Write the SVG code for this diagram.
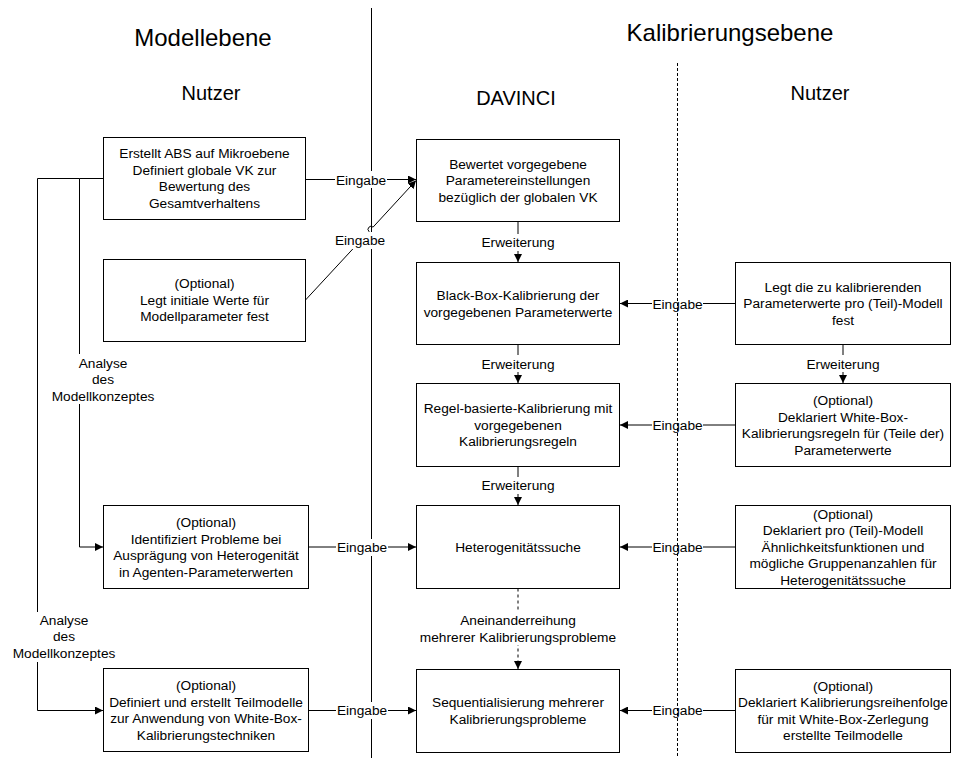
<svg xmlns="http://www.w3.org/2000/svg" width="954" height="758" viewBox="0 0 954 758">
  <style>
    text { font-family: "Liberation Sans", Arial, sans-serif; fill: #000; text-anchor: middle; }
    .t { font-size: 13.7px; }
    .h1 { font-size: 24px; }
    .h2 { font-size: 20px; }
    .box { fill: #fff; stroke: #000; stroke-width: 1; }
    .edge { fill: none; stroke: #000; stroke-width: 1; }
    .dash { stroke-dasharray: 3 3; }
    .lbg { fill: #fff; stroke: none; }
  </style>
  <defs>
    <marker id="arrow" viewBox="0 0 8 8" refX="8" refY="4" markerWidth="8" markerHeight="8" markerUnits="userSpaceOnUse" orient="auto">
      <path d="M0,0 L8,4 L0,8 Z" fill="#000"/>
    </marker>
  </defs>

  <rect width="954" height="758" fill="#fff"/>

  <!-- lane separator between model and calibration level -->
  <line x1="371.5" y1="8" x2="371.5" y2="758" stroke="#000" stroke-width="1"/>

  <!-- headings -->
  <g id="headings">
    <text class="h1" x="203" y="46">Modellebene</text>
    <text class="h1" x="730" y="41">Kalibrierungsebene</text>
    <text class="h2" x="211" y="100">Nutzer</text>
    <text class="h2" x="516" y="105">DAVINCI</text>
    <text class="h2" x="820" y="100">Nutzer</text>
  </g>

  <!-- connectors -->
  <g id="connectors">
    <path class="edge" d="M305.5,179.5 H416" marker-end="url(#arrow)"/>
    <path class="edge" d="M305.5,300 L369,231.5 A3,3 0 0 1 373.1,227.1 L416,180.5" marker-end="url(#arrow)"/>
    <path class="edge" d="M518,221.5 V262" marker-end="url(#arrow)"/>
    <path class="edge" d="M518,344.5 V383" marker-end="url(#arrow)"/>
    <path class="edge" d="M518,466.5 V505" marker-end="url(#arrow)"/>
    <path class="edge dash" d="M518,588.5 V669" marker-end="url(#arrow)"/>
    <path class="edge" d="M735.5,303.5 H620" marker-end="url(#arrow)"/>
    <path class="edge" d="M735.5,425 H620" marker-end="url(#arrow)"/>
    <path class="edge" d="M735.5,547 H620" marker-end="url(#arrow)"/>
    <path class="edge" d="M735.5,710.5 H620" marker-end="url(#arrow)"/>
    <path class="edge" d="M843,344.5 V383" marker-end="url(#arrow)"/>
    <path class="edge" d="M308.5,547 H416" marker-end="url(#arrow)"/>
    <path class="edge" d="M308.5,710.5 H416" marker-end="url(#arrow)"/>
    <path class="edge" d="M103.5,178.5 H79.5 V547 H103" marker-end="url(#arrow)"/>
    <path class="edge" d="M79.5,178.5 H37.5 V710.5 H103" marker-end="url(#arrow)"/>

    <!-- connector labels -->
    <rect class="lbg" x="335" y="171" width="52" height="17"/>
    <text class="t" x="361" y="184.5">Eingabe</text>
    <rect class="lbg" x="334" y="232" width="52" height="17"/>
    <text class="t" x="360" y="245">Eingabe</text>
    <rect class="lbg" x="481" y="234" width="74" height="17"/>
    <text class="t" x="518" y="247">Erweiterung</text>
    <rect class="lbg" x="481" y="355" width="74" height="17"/>
    <text class="t" x="518" y="368.5">Erweiterung</text>
    <rect class="lbg" x="481" y="477" width="74" height="17"/>
    <text class="t" x="518" y="490">Erweiterung</text>
    <rect class="lbg" x="442" y="611" width="152" height="34"/>
    <text class="t" x="518" y="625">Aneinanderreihung</text>
    <text class="t" x="518" y="641.5">mehrerer Kalibrierungsprobleme</text>
    <rect class="lbg" x="652" y="295" width="51" height="17"/>
    <text class="t" x="677.5" y="308.5">Eingabe</text>
    <rect class="lbg" x="652" y="417" width="51" height="17"/>
    <text class="t" x="677.5" y="430">Eingabe</text>
    <rect class="lbg" x="652" y="539" width="51" height="17"/>
    <text class="t" x="677.5" y="552">Eingabe</text>
    <rect class="lbg" x="652" y="702" width="51" height="17"/>
    <text class="t" x="677.5" y="715">Eingabe</text>
    <rect class="lbg" x="806" y="355" width="74" height="17"/>
    <text class="t" x="843" y="368.5">Erweiterung</text>
    <rect class="lbg" x="336" y="539" width="52" height="17"/>
    <text class="t" x="362" y="552">Eingabe</text>
    <rect class="lbg" x="336" y="702" width="52" height="17"/>
    <text class="t" x="362" y="715">Eingabe</text>
    <rect class="lbg" x="51" y="354" width="104" height="50"/>
    <text class="t" x="103" y="367.5">Analyse</text>
    <text class="t" x="103" y="384">des</text>
    <text class="t" x="103" y="400.5">Modellkonzeptes</text>
    <rect class="lbg" x="12" y="612" width="104" height="50"/>
    <text class="t" x="64" y="624.5">Analyse</text>
    <text class="t" x="64" y="641">des</text>
    <text class="t" x="64" y="657.5">Modellkonzeptes</text>
  </g>

  <!-- lane separator inside the calibration level -->
  <line x1="677.5" y1="63" x2="677.5" y2="758" stroke="#000" stroke-width="1" stroke-dasharray="3 2"/>

  <!-- model level, user -->
  <g id="abs-erstellen">
    <rect class="box" x="103.5" y="137.5" width="202" height="82"/>
    <text class="t" x="204.5" y="158">Erstellt ABS auf Mikroebene</text>
    <text class="t" x="204.5" y="174.5">Definiert globale VK zur</text>
    <text class="t" x="204.5" y="191">Bewertung des</text>
    <text class="t" x="204.5" y="207.5">Gesamtverhaltens</text>
  </g>
  <g id="initiale-werte">
    <rect class="box" x="103.5" y="259.5" width="202" height="82"/>
    <text class="t" x="204.5" y="288">(Optional)</text>
    <text class="t" x="204.5" y="304.5">Legt initiale Werte für</text>
    <text class="t" x="204.5" y="321">Modellparameter fest</text>
  </g>
  <g id="heterogenitaet-probleme">
    <rect class="box" x="103.5" y="505.5" width="205" height="83"/>
    <text class="t" x="206" y="527">(Optional)</text>
    <text class="t" x="206" y="543.5">Identifiziert Probleme bei</text>
    <text class="t" x="206" y="560">Ausprägung von Heterogenität</text>
    <text class="t" x="206" y="576.5">in Agenten-Parameterwerten</text>
  </g>
  <g id="teilmodelle">
    <rect class="box" x="103.5" y="668.5" width="205" height="83"/>
    <text class="t" x="206" y="690">(Optional)</text>
    <text class="t" x="206" y="706.5">Definiert und erstellt Teilmodelle</text>
    <text class="t" x="206" y="723">zur Anwendung von White-Box-</text>
    <text class="t" x="206" y="739.5">Kalibrierungstechniken</text>
  </g>

  <!-- calibration level, DAVINCI -->
  <g id="bewertung">
    <rect class="box" x="416.5" y="139.5" width="203" height="82"/>
    <text class="t" x="518" y="168.5">Bewertet vorgegebene</text>
    <text class="t" x="518" y="185">Parametereinstellungen</text>
    <text class="t" x="518" y="201.5">bezüglich der globalen VK</text>
  </g>
  <g id="black-box">
    <rect class="box" x="416.5" y="262.5" width="203" height="82"/>
    <text class="t" x="518" y="300">Black-Box-Kalibrierung der</text>
    <text class="t" x="518" y="316.5">vorgegebenen Parameterwerte</text>
  </g>
  <g id="regel-basiert">
    <rect class="box" x="416.5" y="383.5" width="203" height="83"/>
    <text class="t" x="518" y="413">Regel-basierte-Kalibrierung mit</text>
    <text class="t" x="518" y="429.5">vorgegebenen</text>
    <text class="t" x="518" y="446">Kalibrierungsregeln</text>
  </g>
  <g id="heterogenitaetssuche">
    <rect class="box" x="416.5" y="505.5" width="203" height="83"/>
    <text class="t" x="518" y="551.5">Heterogenitätssuche</text>
  </g>
  <g id="sequentialisierung">
    <rect class="box" x="416.5" y="669.5" width="203" height="83"/>
    <text class="t" x="518" y="707">Sequentialisierung mehrerer</text>
    <text class="t" x="518" y="723.5">Kalibrierungsprobleme</text>
  </g>

  <!-- calibration level, user -->
  <g id="parameterwerte-festlegen">
    <rect class="box" x="735.5" y="262.5" width="215" height="82"/>
    <text class="t" x="843" y="291.5">Legt die zu kalibrierenden</text>
    <text class="t" x="843" y="308">Parameterwerte pro (Teil)-Modell</text>
    <text class="t" x="843" y="324.5">fest</text>
  </g>
  <g id="white-box-regeln">
    <rect class="box" x="735.5" y="383.5" width="215" height="83"/>
    <text class="t" x="843" y="405">(Optional)</text>
    <text class="t" x="843" y="421.5">Deklariert White-Box-</text>
    <text class="t" x="843" y="438">Kalibrierungsregeln für (Teile der)</text>
    <text class="t" x="843" y="454.5">Parameterwerte</text>
  </g>
  <g id="aehnlichkeitsfunktionen">
    <rect class="box" x="735.5" y="505.5" width="215" height="83"/>
    <text class="t" x="843" y="518.5">(Optional)</text>
    <text class="t" x="843" y="535">Deklariert pro (Teil)-Modell</text>
    <text class="t" x="843" y="551.5">Ähnlichkeitsfunktionen und</text>
    <text class="t" x="843" y="568">mögliche Gruppenanzahlen für</text>
    <text class="t" x="843" y="584.5">Heterogenitätssuche</text>
  </g>
  <g id="kalibrierungsreihenfolge">
    <rect class="box" x="735.5" y="669.5" width="215" height="83"/>
    <text class="t" x="843" y="690.5">(Optional)</text>
    <text class="t" x="843" y="707">Deklariert Kalibrierungsreihenfolge</text>
    <text class="t" x="843" y="723.5">für mit White-Box-Zerlegung</text>
    <text class="t" x="843" y="740">erstellte Teilmodelle</text>
  </g>
</svg>
